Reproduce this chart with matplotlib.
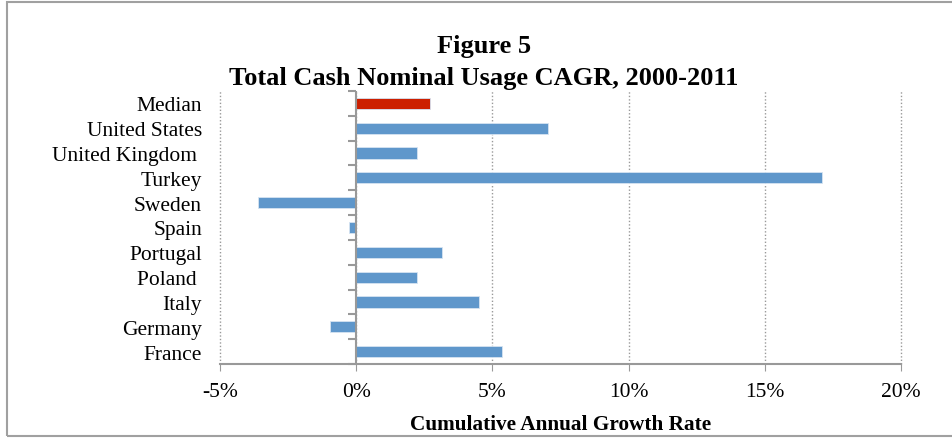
import numpy as np
import matplotlib.pyplot as plt
from matplotlib.patches import Rectangle

# Datos (de abajo hacia arriba)
paises = ['France', 'Germany', 'Italy', 'Poland ', 'Portugal', 'Spain',
          'Sweden', 'Turkey', 'United Kingdom ', 'United States', 'Median']
cagr = [5.35, -0.95, 4.51, 2.22, 3.16, -0.28, -3.59, 17.1, 2.22, 7.05, 2.70]
colores = ['#5F97CB'] * 10 + ['#CC1F00']
ticks_x = [-5, 0, 5, 10, 15, 20]
etiquetas_x = ['-5%', '0%', '5%', '10%', '15%', '20%']

plt.rcParams['font.family'] = 'Liberation Serif'

fig = plt.figure(figsize=(9.52, 4.39), dpi=100)
ax = fig.add_axes([220 / 952, 1 - 365 / 439, 681 / 952, 273 / 439])

pos = np.arange(len(paises))
ax.barh(pos, cagr, height=0.45, color=colores, edgecolor='#D6E4F2', linewidth=0.6, zorder=3)

ax.set_xlim(-5, 20)
ax.set_ylim(-0.5, len(paises) - 0.5)
ax.set_xticks(ticks_x)
ax.set_xticklabels(etiquetas_x, fontsize=15.5)
ax.set_yticks(pos)
ax.set_yticklabels(paises, fontsize=15.5)
ax.tick_params(axis='y', length=0, pad=13)
ax.tick_params(axis='x', direction='out', length=5, color='#999999', pad=8)

# líneas de cuadrícula punteadas (sin recortar la de 20%)
ax.vlines(ticks_x, -0.5, len(paises) - 0.5, linestyles=[(0, (1, 1.5))],
          colors='#999999', linewidth=1, zorder=0, clip_on=False)

for lado in ['top', 'right', 'left']:
    ax.spines[lado].set_visible(False)
ax.spines['bottom'].set_color('#999999')
ax.spines['bottom'].set_linewidth(1.5)

# eje vertical en 0 con marcas entre categorías
ax.axvline(0, color='#999999', linewidth=1.5, zorder=4)
limites = np.arange(len(paises) + 1) - 0.5
ax.plot(np.zeros(len(limites)), limites, linestyle='none', marker=0,
        markersize=6, markeredgewidth=1.5, color='#999999', zorder=4, clip_on=False)

ax.set_xlabel('Cumulative Annual Growth Rate', fontsize=15.3, fontweight='bold', labelpad=9)

fig.text(484 / 952, 1 - 47 / 439, 'Figure 5', ha='center', va='center',
         fontsize=19, fontweight='bold')
fig.text(484 / 952, 1 - 78 / 439, 'Total Cash Nominal Usage CAGR, 2000-2011',
         ha='center', va='center', fontsize=19, fontweight='bold')

# marco exterior
fig.add_artist(Rectangle((7 / 952, 2 / 439), 1.0, 434 / 439, transform=fig.transFigure,
                         fill=False, edgecolor='#A0A0A0', linewidth=1.5))

fig.savefig('out.png', dpi=100)
